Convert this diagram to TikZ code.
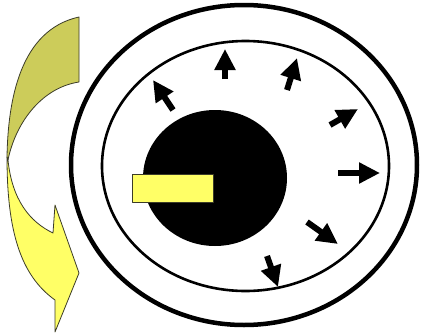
\documentclass[tikz,border=0pt]{standalone}
\usetikzlibrary{arrows.meta}
\definecolor{olive}{RGB}{204,204,90}
\definecolor{lightyel}{RGB}{255,255,102}
\definecolor{edge}{RGB}{60,60,40}
\begin{document}
\begin{tikzpicture}[x=1pt,y=-1pt,
  ring/.style={draw=black},
  band/.style={draw=edge,line width=0.8pt,line join=round},
  ptr/.style={line width=6pt,-{Triangle[length=21pt,width=20pt]}}]
\useasboundingbox (0,0) rectangle (421,335);
\fill[white] (0,0) rectangle (421,335);
% rings
\draw[ring,line width=4.5pt] (244,165) ellipse [x radius=173, y radius=160];
\draw[ring,line width=2.6pt] (245.5,166) ellipse [x radius=143.5, y radius=125];
% black disk
\fill[black] (215,178) ellipse [x radius=72, y radius=68];
% yellow bar
\node[band,fill=lightyel,minimum width=81pt,minimum height=28pt,inner sep=0pt,anchor=north west] (bar) at (132,174) {};
% pointer arrows
\coordinate (a1t) at (173,110); \coordinate (a1h) at (153,80);
\coordinate (a2t) at (225,79);  \coordinate (a2h) at (225,49);
\coordinate (a3t) at (287,90);  \coordinate (a3h) at (297,58);
\coordinate (a4t) at (330,125); \coordinate (a4h) at (358,109);
\coordinate (a5t) at (338,173); \coordinate (a5h) at (380,173);
\coordinate (a6t) at (307,222); \coordinate (a6h) at (338,244);
\coordinate (a7t) at (267,256); \coordinate (a7h) at (278,287);
\foreach \i in {1,...,7}{\draw[ptr] (a\i t) -- (a\i h);}
% curved arrow, upper olive part
\draw[band,fill=olive] (7,157)
  .. controls (8,100) and (20,30) .. (79,17)
  -- (79,82)
  .. controls (40,88) and (15,125) .. (8,160) -- cycle;
% curved arrow, lower yellow part with head
\draw[band,fill=lightyel] (7,157)
  .. controls (7,230) and (20,275) .. (55,300)
  -- (55,332) -- (79,273) -- (55,205) -- (53,233)
  .. controls (30,222) and (12,200) .. (8,160) -- cycle;
\end{tikzpicture}
\end{document}
